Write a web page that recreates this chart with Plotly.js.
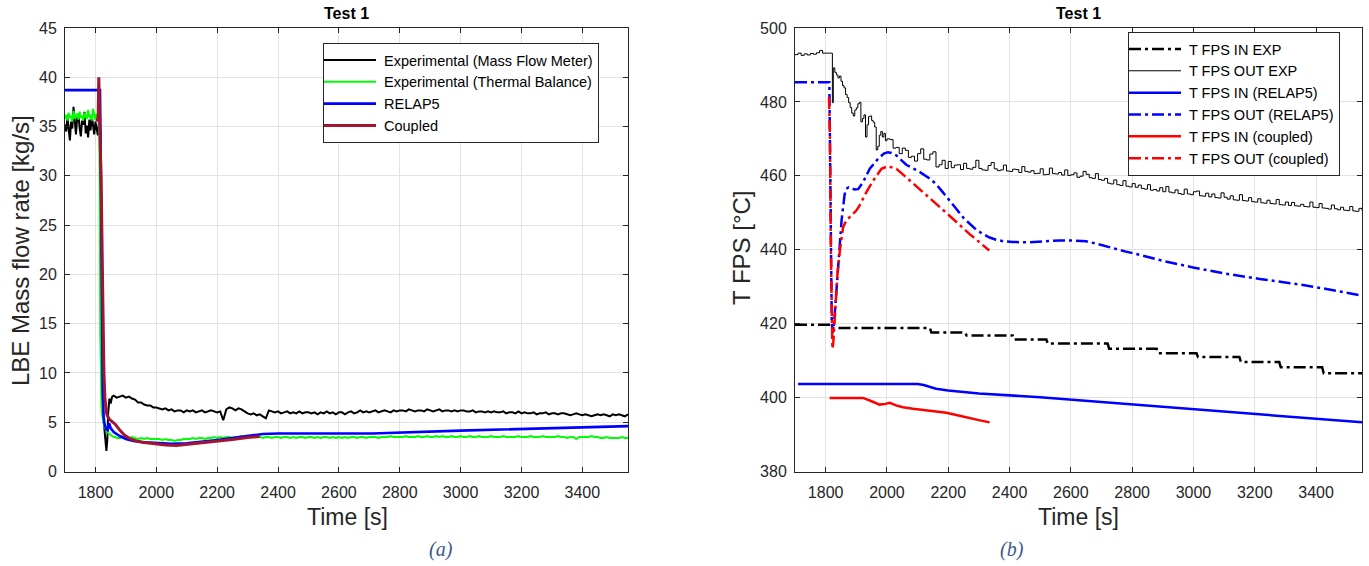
<!DOCTYPE html>
<html>
<head>
<meta charset="utf-8">
<script src="https://cdn.plot.ly/plotly-3.0.1.min.js"></script>
<style>html,body{margin:0;padding:0;background:#fff;}#chart{width:1369px;height:566px;}</style>
</head>
<body>
<div id="chart"></div>
<script>
// ---------- Panel (a): LBE mass flow rate ----------
const tExp = [1700,1704,1708,1712,1716,1720,1724,1728,1732,1736,1740,1744,1748,1752,1756,1760,1764,1768,1772,1776,1780,1784,1788,1792,1796,1800,1804,1808,1812,
  1814,1816,1818,1820,1822,1824,1826,1828,1830,1833,1836,1839,1842,1846,1850,1855,1860,1865,1870,1880,1890,1900,
  1910,1920,1930,1940,1950,1960,1970,1980,1990,2000,
  2010,2020,2030,2040,2050,2060,2070,2080,2090,2100,
  2110,2120,2130,2140,2150,2160,2170,2180,2190,2200,
  2210,2220,2230,2240,2250,2260,2270,2280,2290,2300,
  2310,2320,2330,2340,2350,2360,2370,2380,2390,2400,
  2410,2420,2430,2440,2450,2460,2470,2480,2490,2500,
  2510,2520,2530,2540,2550,2560,2570,2580,2590,2600,
  2610,2620,2630,2640,2650,2660,2670,2680,2690,2700,
  2710,2720,2730,2740,2750,2760,2770,2780,2790,2800,
  2810,2820,2830,2840,2850,2860,2870,2880,2890,2900,
  2910,2920,2930,2940,2950,2960,2970,2980,2990,3000,
  3010,3020,3030,3040,3050,3060,3070,3080,3090,3100,
  3110,3120,3130,3140,3150,3160,3170,3180,3190,3200,
  3210,3220,3230,3240,3250,3260,3270,3280,3290,3300,
  3310,3320,3330,3340,3350,3360,3370,3380,3390,3400,
  3410,3420,3430,3440,3450,3460,3470,3480,3490,3500,
  3510,3520,3530,3540,3550];
const flowMeter = [35.2,34.5,36.0,35.0,33.6,35.5,34.8,37.0,35.3,34.2,35.8,36.3,34.9,34.0,35.6,35.2,36.5,34.3,35.1,33.9,35.7,34.6,36.1,35.0,34.2,35.5,34.8,34.1,35.6,
  35.0,34.5,30,18,9,6.5,5.5,4.8,4.2,3.5,2.1,3.2,6.0,7.4,6.9,7.6,7.7,7.6,7.5,7.6,7.7,7.5,
  7.6,7.4,7.3,7.0,7.0,6.8,6.7,6.7,6.5,6.5,
  6.4,6.3,6.4,6.2,6.3,6.1,6.2,6.2,6.0,6.2,
  6.1,6.2,6.0,6.1,6.2,6.0,6.1,6.2,6.1,6.0,
  6.1,5.2,6.3,6.5,6.4,6.2,6.4,6.3,6.1,5.9,
  5.8,5.9,5.7,5.8,5.6,5.4,6.2,6.1,6.0,6.1,
  5.9,6.0,6.1,5.9,6.0,5.9,6.1,5.9,6.0,6.0,
  5.9,6.0,5.8,6.0,5.9,6.1,5.9,6.0,5.8,6.0,
  6.0,5.8,6.0,6.1,5.9,6.0,6.2,6.0,6.1,6.0,
  6.1,6.2,6.0,6.1,6.2,6.1,6.0,6.2,6.1,6.2,
  6.2,6.1,6.3,6.2,6.1,6.2,6.2,6.1,6.3,6.2,
  6.1,6.2,6.3,6.1,6.2,6.2,6.1,6.2,6.1,6.2,
  6.2,6.1,6.1,6.2,6.0,6.1,6.1,6.0,6.1,6.0,
  6.1,6.0,6.0,6.1,5.9,6.0,6.0,5.9,6.1,5.9,
  6.0,5.9,5.9,6.0,5.8,5.9,5.9,6.0,5.8,5.9,
  5.9,5.8,5.9,5.9,5.8,5.7,5.8,5.9,5.8,5.7,
  5.8,5.7,5.6,5.7,5.8,5.7,5.8,5.7,5.6,5.8,
  5.7,5.8,5.7,5.6,5.8];
const thermalBalance = [35.8,36.2,35.6,36.4,35.9,36.1,35.5,36.6,35.8,36.0,36.3,35.7,36.5,35.9,36.1,35.6,36.4,36.0,35.8,36.7,35.9,36.2,35.6,36.8,36.0,35.7,36.3,35.9,36.1,
  30,14,8,6.5,5.8,5.3,5.0,4.7,4.5,4.3,4.1,4.0,3.9,3.8,3.7,3.6,3.5,3.5,3.4,3.4,3.5,3.4,
  3.4,3.5,3.4,3.3,3.4,3.3,3.4,3.3,3.3,3.3,
  3.3,3.2,3.3,3.2,3.2,3.1,3.2,3.2,3.3,3.3,
  3.3,3.4,3.3,3.4,3.4,3.3,3.4,3.4,3.5,3.4,
  3.5,3.4,3.5,3.5,3.4,3.5,3.5,3.6,3.5,3.5,
  3.5,3.6,3.5,3.5,3.4,3.5,3.5,3.4,3.5,3.5,
  3.4,3.5,3.5,3.4,3.5,3.4,3.5,3.5,3.4,3.5,
  3.5,3.4,3.5,3.4,3.5,3.5,3.4,3.5,3.4,3.5,
  3.4,3.5,3.4,3.5,3.5,3.4,3.5,3.5,3.4,3.5,
  3.5,3.5,3.4,3.5,3.5,3.5,3.6,3.5,3.5,3.5,
  3.5,3.6,3.5,3.5,3.5,3.6,3.5,3.5,3.6,3.5,
  3.5,3.6,3.5,3.6,3.5,3.5,3.6,3.5,3.5,3.6,
  3.5,3.5,3.6,3.5,3.5,3.6,3.5,3.5,3.5,3.6,
  3.5,3.5,3.5,3.6,3.5,3.5,3.5,3.5,3.6,3.5,
  3.5,3.5,3.6,3.5,3.5,3.5,3.6,3.5,3.5,3.5,
  3.5,3.6,3.5,3.5,3.4,3.5,3.5,3.3,3.5,3.5,
  3.5,3.5,3.6,3.5,3.5,3.4,3.4,3.5,3.4,3.4,
  3.4,3.4,3.5,3.4,3.4];
const tRelapA = [1700,1815,1818,1821,1824,1827,1830,1835,1840,1845,1850,1860,1870,1880,1900,1925,1950,2000,2050,2100,2150,2200,2250,2300,2350,2400,2500,2600,2700,2710,3000,3300,3550];
const relapFlow = [38.7,38.7,30,15,8,5.5,4.8,4.3,4.2,4.9,4.4,4.0,3.8,3.6,3.3,3.1,3.0,2.9,2.8,2.85,3.0,3.2,3.4,3.6,3.8,3.85,3.85,3.8,3.8,3.85,4.15,4.4,4.6];
const tCoupledA = [1805,1809,1811,1813,1816,1819,1822,1825,1828,1831,1836,1840,1846,1855,1865,1880,1895,1915,1935,1960,2000,2030,2066,2100,2150,2200,2250,2300,2340];
const coupledFlow = [35.5,36,40,38,33,29,24,16,10,7.5,6.0,5.6,5.3,5.1,4.8,4.2,3.7,3.3,3.1,2.95,2.8,2.7,2.65,2.75,2.9,3.05,3.25,3.45,3.55];

// ---------- Panel (b): FPS temperatures ----------
const tInExp = [1700,1815,1818,2140,2145,2255,2260,2410,2415,2520,2525,2720,2725,2880,2885,3010,3015,3150,3155,3280,3285,3420,3425,3550];
const inExp  = [419.7,419.7,418.8,418.8,417.6,417.6,416.8,416.8,415.7,415.7,414.6,414.6,413.2,413.2,412.0,412.0,411.0,411.0,409.6,409.6,408.2,408.2,406.6,406.6];
const tOutExp = [1700,1710,1720,1730,1740,1750,1760,1770,1780,1790,1800,1810,1818,1822,1825,1830,1835,1840,1845,1850,1855,1860,1865,1870,1875,1880,1885,1890,1895,1900,
  1905,1910,1915,1920,1925,1930,1935,1940,1945,1950,1955,1960,1965,1970,1975,1980,1985,1990,1995,2000,
  2010,2020,2030,2040,2050,2060,2070,2080,2090,2100,
  2110,2120,2130,2140,2150,2160,2170,2180,2190,2200,
  2210,2220,2230,2240,2250,2260,2270,2280,2290,2300,
  2310,2320,2330,2340,2350,2360,2370,2380,2390,2400,
  2410,2420,2430,2440,2450,2460,2470,2480,2490,2500,
  2510,2520,2530,2540,2550,2560,2570,2580,2590,2600,
  2610,2620,2630,2640,2650,2660,2670,2680,2690,2700,
  2710,2720,2730,2740,2750,2760,2770,2780,2790,2800,
  2810,2820,2830,2840,2850,2860,2870,2880,2890,2900,
  2910,2920,2930,2940,2950,2960,2970,2980,2990,3000,
  3010,3020,3030,3040,3050,3060,3070,3080,3090,3100,
  3110,3120,3130,3140,3150,3160,3170,3180,3190,3200,
  3210,3220,3230,3240,3250,3260,3270,3280,3290,3300,
  3310,3320,3330,3340,3350,3360,3370,3380,3390,3400,
  3410,3420,3430,3440,3450,3460,3470,3480,3490,3500,
  3510,3520,3530,3540,3550];
const outExp = [492.8,493.2,492.6,493.0,492.7,493.1,492.9,493.3,493.9,493.2,493.2,493.2,493.2,479.8,489.2,488.0,487.3,486.5,487.0,485.6,484.4,483.8,482.0,481.2,479.8,478.5,477.0,476.2,477.8,478.4,
  479.5,479.9,474.6,475.5,476.5,470.5,473.8,476.0,476.2,475.0,474.5,473.2,467.0,468.0,471.0,472.0,470.5,471.5,469.5,470.0,
  469.8,467.5,467.7,466.0,467.5,466.9,465.0,465.3,464.0,466.0,
  467.3,464.5,464.3,465.9,466.5,462.4,463.0,464.2,462.0,463.9,
  462.2,462.9,463.0,461.7,463.4,462.0,461.8,462.3,464.2,462.0,
  461.6,461.5,462.8,463.6,461.9,461.4,461.6,462.9,461.3,461.2,
  461.8,461.7,460.9,462.5,461.2,461.0,461.4,460.6,460.7,461.9,
  460.3,460.4,462.1,460.6,460.5,460.9,460.2,461.6,460.1,460.3,
  460.8,459.6,459.9,461.2,460.4,459.5,459.3,460.6,459.0,458.8,
  459.3,458.0,457.8,458.9,457.6,457.4,458.7,457.2,457.0,457.9,
  456.9,457.5,456.6,456.4,457.6,456.1,456.3,455.9,456.8,455.7,
  457.1,455.6,455.4,456.2,455.2,455.0,456.4,455.1,454.9,455.7,
  455.9,454.6,454.5,455.3,454.3,455.1,454.1,454.0,455.4,454.2,
  453.7,454.6,453.5,453.4,454.9,453.3,453.2,454.1,453.0,452.9,
  453.8,452.7,452.6,453.4,452.5,452.4,453.6,452.2,452.1,452.9,
  452.0,452.8,451.9,451.8,452.3,451.7,451.6,452.9,451.5,451.4,
  452.5,451.3,451.2,451.0,452.1,451.1,450.8,451.5,450.7,450.6,
  451.7,450.5,450.4,451.2,450.6];
const tInRelap = [1710,2100,2120,2140,2160,2200,2300,2500,2800,3000,3200,3400,3550];
const inRelap  = [403.7,403.7,403.4,402.8,402.4,401.9,401.1,400.1,398.2,396.9,395.6,394.3,393.3];
const tOutRelap = [1700,1812,1814,1817,1820,1823,1826,1830,1835,1840,1846,1852,1857,1862,1867,1875,1884,1895,1906,1922,1944,1971,1990,2003,2015,2031,2063,2106,2139,2160,2182,2205,2226,2250,2269,2290,2312,2335,2356,2380,2410,2465,2519,2563,2610,2650,2690,2727,2780,2835,2900,2999,3100,3216,3330,3434,3550];
const outRelap  = [485.3,485.3,470,440,420,417.5,419,423,429,436,442.5,448,451.5,455,456.5,456.9,456.6,456.3,456.4,458.3,461.9,464.6,466.0,466.4,466.2,465.5,463.0,461.1,459.3,457.8,455.6,453.4,451.1,448.6,447.0,445.5,444.3,443.3,442.7,442.3,442.1,442.0,442.3,442.5,442.5,442.3,441.5,440.6,439.5,438.4,437.0,435.2,433.6,432.1,430.8,429.4,427.6];
const tInCoupled = [1813,1922,1950,1976,1995,2009,2030,2052,2085,2117,2160,2194,2237,2280,2300,2335];
const inCoupled  = [399.9,399.9,399.0,398.1,398.3,398.6,397.9,397.4,397.0,396.7,396.1,395.9,395.1,394.2,393.9,393.3];
const tOutCoupled = [1811,1814,1817,1820,1822,1825,1829,1833,1839,1846,1852,1857,1867,1878,1889,1900,1911,1933,1955,1982,2003,2031,2063,2106,2160,2215,2269,2300,2334];
const outCoupled  = [481.3,470,440,418,413.2,415,420,427,434,439.5,443.5,446.1,447.9,448.8,449.7,450.6,452,455.6,458.7,461.9,462.6,461.9,459.6,456.5,452.4,448.4,444.3,442.2,439.8];

const xTicks = [1800,2000,2200,2400,2600,2800,3000,3200,3400];
const yTicksA = [0,5,10,15,20,25,30,35,40,45];
const yTicksB = [380,400,420,440,460,480,500];

const FONT = 'Liberation Sans, Arial, sans-serif';
const DD = '12px,4px,3px,4px';

const traces = [
  {x: tExp, y: flowMeter, name: 'Experimental (Mass Flow Meter)', xaxis:'x', yaxis:'y', legend:'legend', mode:'lines', line:{color:'#000000', width:2}},
  {x: tExp, y: thermalBalance, name: 'Experimental (Thermal Balance)', xaxis:'x', yaxis:'y', legend:'legend', mode:'lines', line:{color:'#00ff00', width:2}},
  {x: tRelapA, y: relapFlow, name: 'RELAP5', xaxis:'x', yaxis:'y', legend:'legend', mode:'lines', line:{color:'#0000ff', width:2.6}},
  {x: tCoupledA, y: coupledFlow, name: 'Coupled', xaxis:'x', yaxis:'y', legend:'legend', mode:'lines', line:{color:'#a2142f', width:3}},

  {x: tInExp, y: inExp, name: 'T FPS IN EXP', xaxis:'x2', yaxis:'y2', legend:'legend2', mode:'lines', line:{color:'#000000', width:2.5, dash: DD}},
  {x: tOutExp, y: outExp, name: 'T FPS OUT EXP', xaxis:'x2', yaxis:'y2', legend:'legend2', mode:'lines', line:{color:'#000000', width:1, shape:'hv'}},
  {x: tInRelap, y: inRelap, name: 'T FPS IN (RELAP5)', xaxis:'x2', yaxis:'y2', legend:'legend2', mode:'lines', line:{color:'#0000ff', width:2.5}},
  {x: tOutRelap, y: outRelap, name: 'T FPS OUT (RELAP5)', xaxis:'x2', yaxis:'y2', legend:'legend2', mode:'lines', line:{color:'#0000ff', width:2.5, dash: DD}},
  {x: tInCoupled, y: inCoupled, name: 'T FPS IN (coupled)', xaxis:'x2', yaxis:'y2', legend:'legend2', mode:'lines', line:{color:'#ff0000', width:2.5}},
  {x: tOutCoupled, y: outCoupled, name: 'T FPS OUT (coupled)', xaxis:'x2', yaxis:'y2', legend:'legend2', mode:'lines', line:{color:'#ff0000', width:2.5, dash: DD}}
];

const W = 1369, H = 566;
const yDom = [(H-471.5)/H, (H-28)/H];
function xAxis(dom, anchor){
  return {domain: dom, anchor: anchor, range:[1700,3550], tickvals: xTicks, ticks:'inside', ticklen:5, tickwidth:1, tickcolor:'#262626',
    showline:true, linecolor:'#262626', linewidth:1, mirror:'ticks', showgrid:true, gridcolor:'#e2e2e2', gridwidth:1, zeroline:false,
    tickfont:{family:FONT, size:16, color:'#262626'}, ticklabelstandoff: 6};
}
function yAxis(range, ticks, anchor){
  return {domain: yDom, anchor: anchor, range: range, tickvals: ticks, ticks:'inside', ticklen:5, tickwidth:1, tickcolor:'#262626',
    showline:true, linecolor:'#262626', linewidth:1, mirror:'ticks', showgrid:true, gridcolor:'#e2e2e2', gridwidth:1, zeroline:false,
    tickfont:{family:FONT, size:16, color:'#262626'}, ticklabelstandoff: 4};
}

const legendBase = {bgcolor:'#ffffff', bordercolor:'#262626', borderwidth:1, font:{family:FONT, size:14.5, color:'#000000'},
  xanchor:'left', yanchor:'top', tracegroupgap:0, itemwidth:50};

const layout = {
  width: W, height: H, margin:{l:0, r:0, t:0, b:0}, paper_bgcolor:'#ffffff', plot_bgcolor:'#ffffff',
  showlegend: true,
  xaxis: xAxis([65/W, 628/W], 'y'),
  yaxis: yAxis([0,45], yTicksA, 'x'),
  xaxis2: xAxis([795/W, 1362/W], 'y2'),
  yaxis2: yAxis([380,500], yTicksB, 'x2'),
  legend: Object.assign({}, legendBase, {x: 323/W, y: (H-43)/H}),
  legend2: Object.assign({}, legendBase, {x: 1128/W, y: (H-32)/H}),
  annotations: [
    {text:'<b>Test 1</b>', x:346/W, y:(H-13)/H, xref:'paper', yref:'paper', showarrow:false, xanchor:'center', yanchor:'middle', font:{family:FONT, size:16, color:'#000000'}},
    {text:'<b>Test 1</b>', x:1078/W, y:(H-13)/H, xref:'paper', yref:'paper', showarrow:false, xanchor:'center', yanchor:'middle', font:{family:FONT, size:16, color:'#000000'}},
    {text:'Time [s]', x:347/W, y:(H-517)/H, xref:'paper', yref:'paper', showarrow:false, xanchor:'center', yanchor:'middle', font:{family:FONT, size:23, color:'#262626'}},
    {text:'Time [s]', x:1078/W, y:(H-517)/H, xref:'paper', yref:'paper', showarrow:false, xanchor:'center', yanchor:'middle', font:{family:FONT, size:23, color:'#262626'}},
    {text:'LBE Mass flow rate [kg/s]', x:20/W, y:(H-251)/H, xref:'paper', yref:'paper', showarrow:false, xanchor:'center', yanchor:'middle', textangle:-90, font:{family:FONT, size:24, color:'#262626'}},
    {text:'T FPS [°C]', x:741/W, y:(H-248)/H, xref:'paper', yref:'paper', showarrow:false, xanchor:'center', yanchor:'middle', textangle:-90, font:{family:FONT, size:24, color:'#262626'}},
    {text:'<i>(a)</i>', x:441/W, y:(H-549)/H, xref:'paper', yref:'paper', showarrow:false, xanchor:'center', yanchor:'middle', font:{family:'Liberation Serif', size:20, color:'#3b5a8c'}},
    {text:'<i>(b)</i>', x:1012/W, y:(H-549)/H, xref:'paper', yref:'paper', showarrow:false, xanchor:'center', yanchor:'middle', font:{family:'Liberation Serif', size:20, color:'#3b5a8c'}}
  ]
};

Plotly.newPlot('chart', traces, layout, {staticPlot:true, displayModeBar:false}).then(function(){
  // lengthen legend line samples to MATLAB-like length
  document.querySelectorAll('.legendlines path').forEach(function(p){ p.setAttribute('d','M0,0h52'); });
});
</script>
</body>
</html>
